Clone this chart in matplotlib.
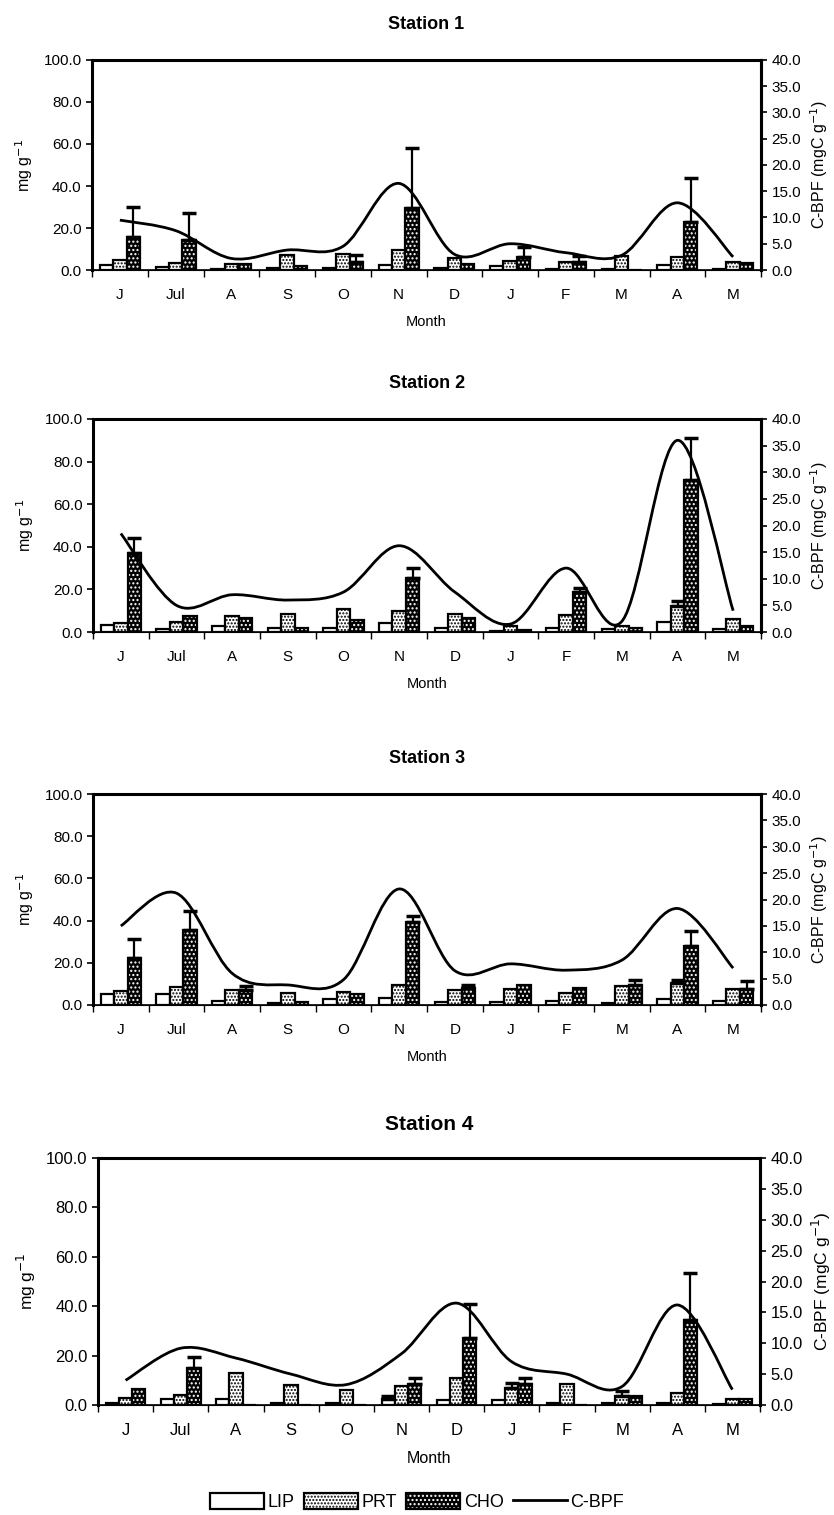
import numpy as np
import matplotlib
matplotlib.use("Agg")
import matplotlib.pyplot as plt
from matplotlib.path import Path
from matplotlib.patches import PathPatch, Patch
from matplotlib.lines import Line2D
from matplotlib.legend_handler import HandlerTuple

plt.rcParams['font.family'] = ['Liberation Sans', 'DejaVu Sans']
plt.rcParams['hatch.linewidth'] = 1.0

months = ['J', 'Jul', 'A', 'S', 'O', 'N', 'D', 'J', 'F', 'M', 'A', 'M']
stations = ['Station 1', 'Station 2', 'Station 3', 'Station 4']

# ---- Station 1 ----
lip1 = [2.5, 1.5, 0.5, 1.0, 1.0, 2.5, 1.0, 2.0, 0.5, 0.3, 2.5, 0.3]
prt1 = [5.0, 3.5, 3.0, 7.0, 7.5, 9.5, 5.5, 4.5, 4.0, 6.5, 6.0, 4.0]
cho1 = [15.5, 14.5, 3.0, 2.0, 4.0, 29.5, 3.0, 6.0, 4.0, 0.0, 23.0, 3.5]
cho_err1 = [14.5, 12.5, 0, 0, 3.0, 28.5, 0, 5.0, 2.5, 0, 21.0, 0]
prt_err1 = [0, 0, 0, 0, 0, 0, 0, 0, 0, 0, 0, 0]
lip_err1 = [0, 0, 0, 0, 0, 0, 0, 0, 0, 0, 0, 0]
cbpf1 = [9.5, 7.5, 2.2, 3.8, 4.5, 16.5, 3.0, 5.0, 3.3, 2.8, 12.8, 2.5]

# ---- Station 2 ----
lip2 = [3.5, 1.5, 3.0, 2.0, 2.0, 4.0, 2.0, 0.5, 2.0, 1.5, 4.5, 1.5]
prt2 = [4.0, 4.5, 7.5, 8.5, 11.0, 10.0, 8.5, 3.0, 8.0, 3.0, 12.0, 6.0]
cho2 = [37.0, 7.5, 6.5, 2.0, 5.5, 25.5, 6.5, 1.0, 19.0, 2.0, 71.5, 3.0]
cho_err2 = [7.0, 0, 0, 0, 0, 4.5, 0, 0, 1.5, 0, 19.5, 0]
prt_err2 = [0, 0, 0, 0, 0, 0, 0, 0, 0, 0, 2.5, 0]
lip_err2 = [0, 0, 0, 0, 0, 0, 0, 0, 0, 0, 0, 0]
cbpf2 = [18.5, 5.0, 7.0, 6.0, 7.5, 16.2, 7.5, 1.5, 12.0, 2.0, 36.0, 4.0]

# ---- Station 3 ----
lip3 = [5.0, 5.0, 2.0, 1.0, 3.0, 3.5, 1.5, 1.5, 2.0, 1.0, 3.0, 2.0]
prt3 = [6.5, 8.5, 7.0, 5.5, 6.0, 9.5, 7.0, 7.5, 5.5, 9.0, 10.5, 7.5]
cho3 = [22.5, 35.5, 7.0, 1.5, 5.0, 39.5, 8.0, 9.5, 8.0, 9.5, 28.0, 7.5]
cho_err3 = [9.0, 9.0, 2.0, 0, 0, 2.5, 1.5, 0, 0, 2.5, 7.0, 4.0]
prt_err3 = [0, 0, 0, 0, 0, 0, 0, 0, 0, 0, 1.5, 0]
lip_err3 = [0, 0, 0, 0, 0, 0, 0, 0, 0, 0, 0, 0]
cbpf3 = [15.0, 21.2, 6.0, 3.8, 4.8, 22.0, 6.5, 7.8, 6.6, 8.5, 18.3, 7.0]

# ---- Station 4 ----
lip4 = [1.0, 2.5, 2.5, 1.0, 1.0, 2.5, 2.0, 2.0, 1.0, 1.0, 1.0, 0.5]
prt4 = [3.0, 4.0, 13.0, 8.0, 6.0, 7.5, 11.0, 7.0, 8.5, 3.5, 5.0, 2.5]
cho4 = [6.5, 15.0, 0.0, 0.0, 0.0, 8.5, 27.0, 8.5, 0.0, 3.5, 34.5, 2.5]
cho_err4 = [0, 4.5, 0, 0, 0, 2.5, 14.0, 2.5, 0, 0, 19.0, 0]
prt_err4 = [0, 0, 0, 0, 0, 0, 0, 2.0, 0, 2.0, 0, 0]
lip_err4 = [0, 0, 0, 0, 0, 1.0, 0, 0, 0, 0, 0, 0]
cbpf4 = [4.0, 9.2, 7.6, 5.0, 3.3, 8.3, 16.5, 7.0, 5.0, 3.0, 16.2, 2.5]

data = [
    (lip1, prt1, cho1, lip_err1, prt_err1, cho_err1, cbpf1),
    (lip2, prt2, cho2, lip_err2, prt_err2, cho_err2, cbpf2),
    (lip3, prt3, cho3, lip_err3, prt_err3, cho_err3, cbpf3),
    (lip4, prt4, cho4, lip_err4, prt_err4, cho_err4, cbpf4),
]

W, H = 834, 1515
# axes boxes in pixels: left, top, right, bottom
boxes = [
    (92, 60, 761, 270),
    (93, 419, 761, 632),
    (93, 794, 761, 1005),
    (98, 1158, 760, 1405),
]
title_sizes = [13, 13, 13, 15]
label_sizes = [11, 11, 11, 12]
title_pads = [22, 22, 22, 20]


def smooth_path(xs, ys):
    pts = np.column_stack([xs, ys]).astype(float)
    n = len(pts)
    verts = [pts[0]]
    codes = [Path.MOVETO]
    for i in range(n - 1):
        p0 = pts[i - 1] if i > 0 else pts[i]
        p1 = pts[i]
        p2 = pts[i + 1]
        p3 = pts[i + 2] if i + 2 < n else pts[i + 1]
        c1 = p1 + (p2 - p0) / 6.0
        c2 = p2 - (p3 - p1) / 6.0
        verts += [c1, c2, p2]
        codes += [Path.CURVE4] * 3
    return Path(verts, codes)


fig = plt.figure(figsize=(W / 100, H / 100), dpi=100)
x = np.arange(len(months))
bw = 0.24

for k, (box, d) in enumerate(zip(boxes, data)):
    lip, prt, cho, le, pe, ce, cb = d
    l, t, r, b = box
    ax = fig.add_axes([l / W, 1 - b / H, (r - l) / W, (b - t) / H])
    fs = label_sizes[k]

    zeros = np.zeros(len(months))
    ax.bar(x - bw, lip, bw, color='white', edgecolor='black', linewidth=1.6, zorder=2)
    ax.bar(x, prt, bw, color='white', edgecolor='black', linewidth=1.6,
           hatch='.....', zorder=2)
    ax.bar(x + bw, cho, bw, color='black', edgecolor='white', linewidth=0,
           hatch='....', zorder=2)
    ax.bar(x + bw, cho, bw, color='none', edgecolor='black', linewidth=1.6, zorder=3)
    for off, vals, errs in ((-bw, lip, le), (0, prt, pe), (bw, cho, ce)):
        errs = np.asarray(errs, float)
        m = errs > 0
        if m.any():
            ax.errorbar((x + off)[m], np.asarray(vals)[m],
                        yerr=[zeros[m], errs[m]], fmt='none', ecolor='black',
                        elinewidth=1.6, capsize=5, capthick=2.5, zorder=4)

    ax.set_xlim(-0.5, 11.5)
    ax.set_ylim(0, 100)
    ax.set_yticks(np.arange(0, 101, 20))
    ax.set_yticklabels(['%.1f' % v for v in np.arange(0, 101, 20)], fontsize=fs)
    ax.set_xticks(np.arange(-0.5, 12, 1))
    ax.set_xticklabels([])
    ax.set_xticks(x, minor=True)
    ax.set_xticklabels(months, minor=True, fontsize=fs)
    ax.tick_params(axis='x', which='major', direction='out', length=5, width=1)
    ax.tick_params(axis='x', which='minor', length=0, pad=13)
    ax.tick_params(axis='y', direction='out', length=4, width=1.2)
    ax.set_xlabel('Month', fontsize=fs - 0.5, labelpad=9)
    ax.set_ylabel('mg g$^{-1}$', fontsize=fs + 0.5, labelpad=6)
    for s in ('left', 'right', 'top'):
        ax.spines[s].set_linewidth(2.2)
    ax.spines['bottom'].set_linewidth(1.2)
    ax.set_title(stations[k], fontsize=title_sizes[k], fontweight='bold',
                 pad=title_pads[k])

    ax2 = ax.twinx()
    ax2.set_ylim(0, 40)
    ax2.set_yticks(np.arange(0, 41, 5))
    ax2.set_yticklabels(['%.1f' % v for v in np.arange(0, 41, 5)], fontsize=fs)
    ax2.tick_params(axis='y', direction='out', length=4, width=1.2)
    ax2.set_ylabel('C-BPF (mgC g$^{-1}$)', fontsize=fs + 0.5, labelpad=5)
    ax2.spines['right'].set_linewidth(2.2)
    ax2.add_patch(PathPatch(smooth_path(x, cb), facecolor='none',
                            edgecolor='black', linewidth=2.0, zorder=5))

cho_handle = (Patch(facecolor='black', edgecolor='white', linewidth=0, hatch='....'),
              Patch(facecolor='none', edgecolor='black', linewidth=1.6))
handles = [
    Patch(facecolor='white', edgecolor='black', linewidth=1.6),
    Patch(facecolor='white', edgecolor='black', linewidth=1.6, hatch='.....'),
    cho_handle,
    Line2D([0], [0], color='black', linewidth=2.0),
]
fig.legend(handles, ['LIP', 'PRT', 'CHO', 'C-BPF'], loc='center',
           bbox_to_anchor=(0.5, 1 - 1502 / H), ncol=4, frameon=False,
           fontsize=13, handlelength=3.0, handleheight=1.0,
           handletextpad=0.2, columnspacing=0.5,
           handler_map={tuple: HandlerTuple(ndivide=1, pad=0)})

fig.savefig('out.png', dpi=100)
